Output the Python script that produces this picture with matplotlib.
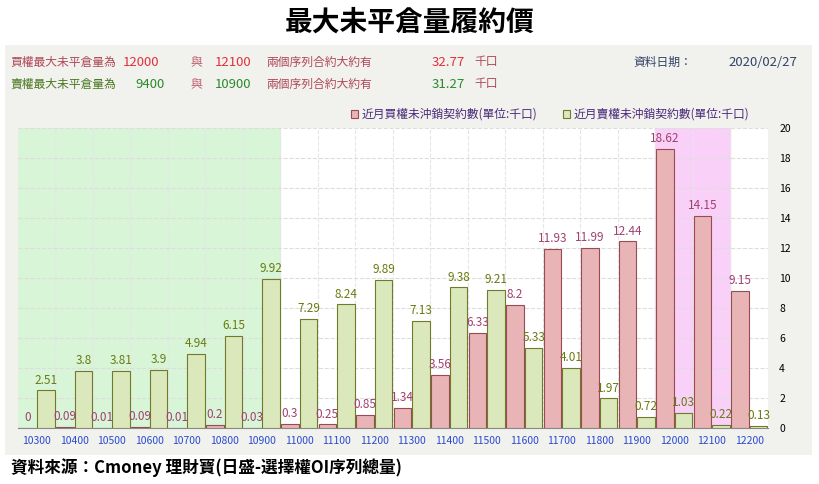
import matplotlib
matplotlib.use("Agg")
import matplotlib.pyplot as plt
from matplotlib.patches import Rectangle
from matplotlib import font_manager
import numpy as np

names = {f.name for f in font_manager.fontManager.ttflist}
cjk = [n for n in ["Noto Sans CJK TC", "Noto Sans CJK JP", "Noto Sans CJK SC", "Noto Sans CJK KR"] if n in names]
plt.rcParams["font.family"] = cjk + ["DejaVu Sans"]

strikes = ["10300","10400","10500","10600","10700","10800","10900","11000","11100","11200",
           "11300","11400","11500","11600","11700","11800","11900","12000","12100","12200"]
calls = [0,0.09,0.01,0.09,0.01,0.2,0.03,0.3,0.25,0.85,1.34,3.56,6.33,8.2,11.93,11.99,12.44,18.62,14.15,9.15]
puts = [2.51,3.8,3.81,3.9,4.94,6.15,9.92,7.29,8.24,9.89,7.13,9.38,9.21,5.33,4.01,1.97,0.72,1.03,0.22,0.13]
yticks = [0,2,4,6,8,10,12,14,16,18,20]

fig = plt.figure(figsize=(8.2,4.84), dpi=100)
fig.patches.append(Rectangle((5/820, 1-455/484), 807/820, 410/484, transform=fig.transFigure,
                             facecolor="#f1f1ee", edgecolor="none", zorder=-10))
fig.text(0.5, 0.953, "最大未平倉量履約價", ha="center", va="center", fontsize=20, fontweight="bold")

red = "#e0303a"; grn = "#2a8a2a"; lab = "#b04858"
y1, y2 = 1-62/484, 1-84/484
fs = 8.5
fig.text(0.013, y1, "買權最大未平倉量為", color=lab, fontsize=fs, va="center")
fig.text(0.15, y1, "12000", color=red, fontsize=9.5, va="center")
fig.text(0.232, y1, "與", color="#c06070", fontsize=fs, va="center")
fig.text(0.262, y1, "12100", color=red, fontsize=9.5, va="center")
fig.text(0.325, y1, "兩個序列合約大約有", color=lab, fontsize=fs, va="center")
fig.text(0.527, y1, "32.77", color=red, fontsize=9.5, va="center")
fig.text(0.578, y1, "千口", color=lab, fontsize=fs, va="center")
fig.text(0.013, y2, "賣權最大未平倉量為", color="#4a7a20", fontsize=fs, va="center")
fig.text(0.165, y2, "9400", color=grn, fontsize=9.5, va="center")
fig.text(0.232, y2, "與", color="#c06070", fontsize=fs, va="center")
fig.text(0.262, y2, "10900", color=grn, fontsize=9.5, va="center")
fig.text(0.325, y2, "兩個序列合約大約有", color=lab, fontsize=fs, va="center")
fig.text(0.527, y2, "31.27", color=grn, fontsize=9.5, va="center")
fig.text(0.578, y2, "千口", color=lab, fontsize=fs, va="center")
fig.text(0.772, y1, "資料日期：", color="#334466", fontsize=fs, va="center")
fig.text(0.888, y1, "2020/02/27", color="#334466", fontsize=9.5, va="center")

ax = fig.add_axes([18/820, 1-428/484, 750/820, 300/484])
n = len(strikes)
x = np.arange(n)
ax.set_facecolor("white")
ax.axvspan(-0.5, 6.5, color="#d8f5d8", zorder=0)
ax.axvspan(16.5, 18.5, color="#f8d0f8", zorder=0)
w = 0.47
ax.bar(x-0.25, calls, w, color="#e8b4b6", edgecolor="#9a4a55", linewidth=0.8, zorder=3,
       label="近月買權未沖銷契約數(單位:千口)")
ax.bar(x+0.25, puts, w, color="#dbe8bb", edgecolor="#6f7a2a", linewidth=0.8, zorder=3,
       label="近月賣權未沖銷契約數(單位:千口)")
for i in range(n):
    ax.text(x[i]-0.25, calls[i]+0.25, f"{calls[i]:g}", ha="center", va="bottom", color="#a04070", fontsize=8.5, zorder=4)
    ax.text(x[i]+0.25, puts[i]+0.25, f"{puts[i]:g}", ha="center", va="bottom", color="#6a7a10", fontsize=8.5, zorder=4)
ax.set_xlim(-0.5, n-0.5)
ax.set_ylim(0, 20)
ax.set_xticks(x)
ax.set_xticklabels(strikes, color="#2a4ad0", fontsize=7.5)
ax.set_yticks(yticks)
ax.yaxis.tick_right()
ax.tick_params(axis="y", labelsize=7.5, length=0, pad=8)
ax.tick_params(axis="x", length=0, pad=6)
for v in np.arange(0.5, n-0.5, 1):
    ax.axvline(v, color="#e6e6e6", lw=0.8, ls="--", zorder=1)
for v in yticks[1:]:
    ax.axhline(v, color="#dddddd", lw=0.8, ls="--", zorder=1)
for s in ax.spines.values():
    s.set_visible(False)
ax.spines["bottom"].set_visible(True)
ax.spines["bottom"].set_color("#888888")
leg = ax.legend(loc="lower right", bbox_to_anchor=(0.985, 1.0), ncol=2, frameon=False, fontsize=8.5,
                handlelength=0.6, handleheight=0.6, handletextpad=0.3, columnspacing=2.2, borderaxespad=0.2)
for t in leg.get_texts():
    t.set_color("#4a2a7a")

fig.text(0.013, 1-468/484, "資料來源：Cmoney 理財寶(日盛-選擇權OI序列總量)", fontsize=12, fontweight="bold", va="center")
fig.savefig("out.png", dpi=100)
